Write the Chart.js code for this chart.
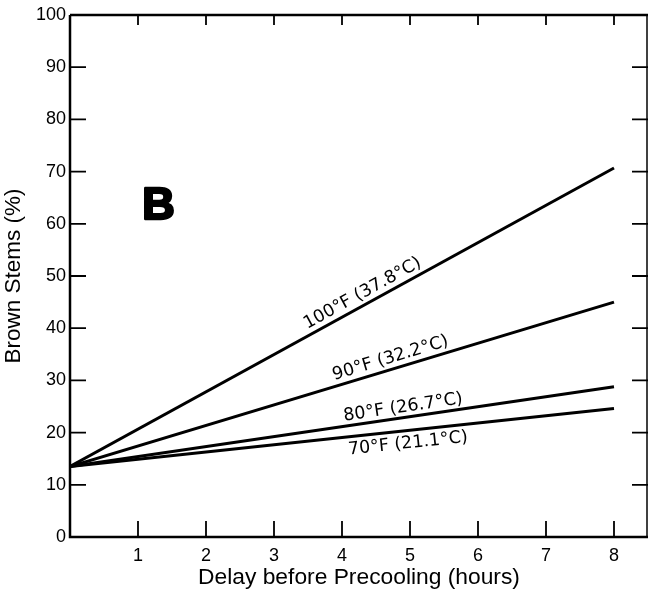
<!DOCTYPE html>
<html><head><meta charset="utf-8">
<script src="https://cdn.jsdelivr.net/npm/chart.js@4/dist/chart.umd.min.js"></script>
<style>html,body{margin:0;padding:0;background:#fff;}#wrap{width:649px;height:595px;}</style>
</head><body><div id="wrap"><canvas id="c" width="649" height="595"></canvas></div>
<script>
const hours = [0, 8];
const temp100 = [13.5, 70.7];
const temp90 = [13.5, 45.0];
const temp80 = [13.5, 28.8];
const temp70 = [13.5, 24.6];
const seriesNames = ['100°F (37.8°C)', '90°F (32.2°C)', '80°F (26.7°C)', '70°F (21.1°C)'];
const xTickValues = [1, 2, 3, 4, 5, 6, 7, 8];
const yTickValues = [0, 10, 20, 30, 40, 50, 60, 70, 80, 90, 100];

const FONT = '"Liberation Sans", Arial, Helvetica, sans-serif';
const LFONT = '"DejaVu Sans", "Liberation Sans", sans-serif';
const mk = (vals) => hours.map((h, i) => ({x: h, y: vals[i]}));

// label placement: [data x of label centre, perpendicular offset px (negative = above)]
const labelPlace = [[4.38, -11], [4.76, -11], [4.92, -10], [4.95, 13]];

const framePlugin = {
  id: 'frame',
  afterDraw(chart) {
    const {ctx, chartArea: a, scales: {x, y}} = chart;
    ctx.save();
    ctx.strokeStyle = '#000';
    ctx.lineWidth = 2.5;
    ctx.beginPath();
    ctx.moveTo(a.left, a.top); ctx.lineTo(a.left, a.bottom); ctx.lineTo(a.right, a.bottom);
    ctx.moveTo(a.left, a.top); ctx.lineTo(a.right, a.top);
    ctx.stroke();
    ctx.lineWidth = 1.5;
    ctx.beginPath(); ctx.moveTo(a.right - 1, a.top); ctx.lineTo(a.right - 1, a.bottom); ctx.stroke();
    ctx.lineWidth = 1.8;
    ctx.beginPath();
    yTickValues.forEach(v => {
      if (v === 0 || v === 100) return;
      const py = y.getPixelForValue(v);
      ctx.moveTo(a.left, py); ctx.lineTo(a.left + 16, py);
      ctx.moveTo(a.right, py); ctx.lineTo(a.right - 16, py);
    });
    xTickValues.forEach(v => {
      const px = x.getPixelForValue(v);
      ctx.moveTo(px, a.bottom); ctx.lineTo(px, a.bottom - 16);
      ctx.moveTo(px, a.top); ctx.lineTo(px, a.top + 10);
    });
    ctx.stroke();
    ctx.fillStyle = '#000';
    ctx.font = '17.5px ' + LFONT;
    ctx.textAlign = 'center';
    ctx.textBaseline = 'middle';
    chart.data.datasets.forEach((ds, i) => {
      const p0 = ds.data[0], p1 = ds.data[1];
      const X0 = x.getPixelForValue(p0.x), Y0 = y.getPixelForValue(p0.y);
      const X1 = x.getPixelForValue(p1.x), Y1 = y.getPixelForValue(p1.y);
      const ang = Math.atan2(Y1 - Y0, X1 - X0);
      const [lx, off] = labelPlace[i];
      const ly = p0.y + (p1.y - p0.y) * (lx - p0.x) / (p1.x - p0.x);
      const cx = x.getPixelForValue(lx) - Math.sin(ang) * off;
      const cy = y.getPixelForValue(ly) + Math.cos(ang) * off;
      ctx.save();
      ctx.translate(cx, cy);
      ctx.rotate(ang);
      ctx.fillText(seriesNames[i], 0, 0);
      ctx.restore();
    });
    ctx.font = 'bold 45px ' + FONT;
    ctx.lineWidth = 2.5;
    ctx.lineJoin = 'round';
    const bx = x.getPixelForValue(1.3), by = y.getPixelForValue(63.3);
    ctx.fillText('B', bx, by);
    ctx.strokeText('B', bx, by);
    ctx.restore();
  }
};

const lineDs = (vals) => ({
  data: mk(vals), borderColor: '#000', borderWidth: 3, pointRadius: 0, fill: false, tension: 0
});

new Chart(document.getElementById('c'), {
  type: 'line',
  data: { datasets: [lineDs(temp100), lineDs(temp90), lineDs(temp80), lineDs(temp70)] },
  options: {
    responsive: false,
    animation: false,
    layout: { padding: { top: 15, right: 1, left: 0, bottom: 0 } },
    plugins: { legend: { display: false }, tooltip: { enabled: false } },
    scales: {
      x: {
        type: 'linear', min: 0, max: 8.5,
        afterBuildTicks(s) { s.ticks = xTickValues.map(v => ({value: v})); },
        afterFit(s) { s.height = 58; },
        grid: { display: false, drawTicks: false },
        border: { display: false },
        ticks: { color: '#000', font: { family: FONT, size: 18 }, padding: 8, autoSkip: false, maxRotation: 0 },
        title: { display: true, text: 'Delay before Precooling (hours)', color: '#000',
                 font: { family: FONT, size: 22.8 }, padding: { top: 0, bottom: 4 } }
      },
      y: {
        type: 'linear', min: 0, max: 100,
        afterBuildTicks(s) { s.ticks = yTickValues.map(v => ({value: v})); },
        afterFit(s) { s.width = 70; },
        grid: { display: false, drawTicks: false },
        border: { display: false },
        ticks: { color: '#000', font: { family: FONT, size: 18 }, padding: 4, autoSkip: false },
        title: { display: true, text: 'Brown Stems (%)', color: '#000',
                 font: { family: FONT, size: 22.5 }, padding: { top: 0, bottom: 0 } }
      }
    }
  },
  plugins: [framePlugin]
});
</script></body></html>
